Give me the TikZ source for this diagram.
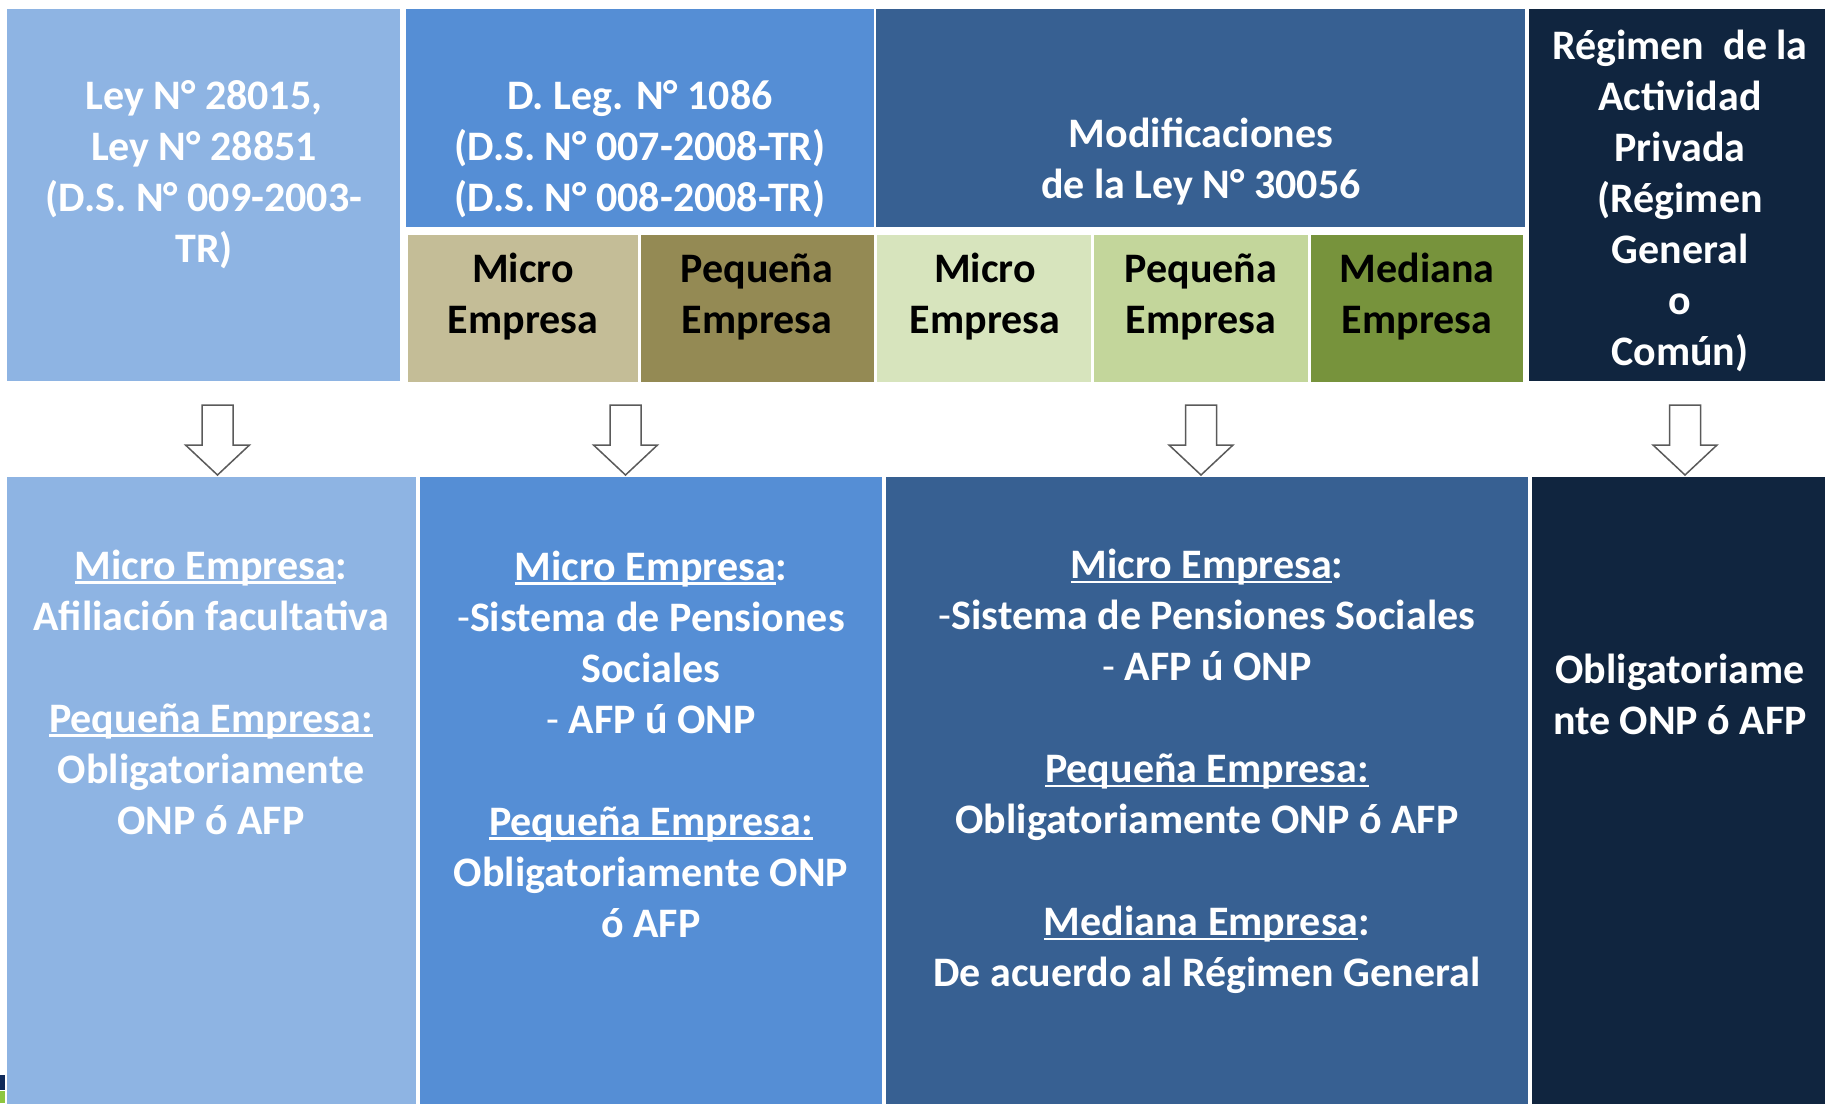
\documentclass[tikz,border=0pt]{standalone}
\usepackage{fontspec}
\setmainfont{Carlito}
\usetikzlibrary{positioning}

\definecolor{leyblue}{HTML}{8EB4E3}
\definecolor{legblue}{HTML}{558ED5}
\definecolor{modblue}{HTML}{376092}
\definecolor{regnavy}{HTML}{10253F}
\definecolor{microtan}{HTML}{C4BD97}
\definecolor{pequeolive}{HTML}{948A54}
\definecolor{micropale}{HTML}{D7E4BD}
\definecolor{pequelight}{HTML}{C3D69B}
\definecolor{medgreen}{HTML}{77933C}
\definecolor{arrowgray}{HTML}{5A5A5A}
\definecolor{slidenavy}{HTML}{0F2A5A}
\definecolor{slidegreen}{HTML}{8DC63F}

% underline at a fixed depth, through the descenders
\newcommand{\undl}[1]{\setbox0=\hbox{#1}\rlap{\rule[-2.4pt]{\wd0}{1.2pt}}\box0}

\tikzset{
  cell/.style={rectangle,inner sep=0pt,outer sep=0pt,anchor=north west},
  txt/.style={align=center,inner sep=0pt,text=white,
    font=\bfseries\fontsize{21}{25.5}\selectfont},
  subtxt/.style={txt,text=black},
  blockarrow/.style={draw=arrowgray,fill=white,line width=0.75pt,line join=miter}
}

\begin{document}
\begin{tikzpicture}[x=0.5pt,y=-0.5pt]
  \useasboundingbox (0,0) rectangle (1825,1103);

  % top row
  \node[cell,fill=leyblue,minimum width=196.5pt,minimum height=186pt] (ley) at (7,9) {};
  \node[cell,fill=legblue,minimum width=234pt,minimum height=109pt] (dleg) at (406,9) {};
  \node[cell,fill=modblue,minimum width=324.5pt,minimum height=109pt] (modif) at (876,9) {};
  \node[cell,fill=regnavy,minimum width=150pt,minimum height=186pt] (regimen) at (1529,9) {};

  % company sizes
  \node[cell,fill=microtan,minimum width=115pt,minimum height=73.5pt] (microA) at (408,235) {};
  \node[cell,fill=pequeolive,minimum width=116.5pt,minimum height=73.5pt] (pequeA) at (641,235) {};
  \node[cell,fill=micropale,minimum width=107pt,minimum height=73.5pt] (microB) at (877,235) {};
  \node[cell,fill=pequelight,minimum width=107pt,minimum height=73.5pt] (pequeB) at (1094,235) {};
  \node[cell,fill=medgreen,minimum width=106pt,minimum height=73.5pt] (medB) at (1311,235) {};

  % bottom row
  \node[cell,fill=leyblue,minimum width=204.5pt,minimum height=316pt] (colA) at (7,477) {};
  \node[cell,fill=legblue,minimum width=231pt,minimum height=316pt] (colB) at (420,477) {};
  \node[cell,fill=modblue,minimum width=321pt,minimum height=316pt] (colC) at (886,477) {};
  \node[cell,fill=regnavy,minimum width=150pt,minimum height=316pt] (colD) at (1532,477) {};

  % corner of the slide
  \fill[slidenavy] (0,1075) rectangle (5,1090);
  \fill[slidegreen] (0,1091) rectangle (5,1103);

  % texts
  \node[txt] (leyT) at (204,175) {Ley N° 28015,\\ Ley N° 28851\\ (D.S. N° 009-2003-\\ TR)};
  \node[txt] (dlegT) at (640,149) {D. Leg. N° 1086\\ (D.S. N° 007-2008-TR)\\ (D.S. N° 008-2008-TR)};
  \node[txt] (modifT) at (1201,162) {Modificaciones\\ de la Ley N° 30056};
  \node[txt] (regimenT) at (1680,201) {Régimen~~de la\\ Actividad\\ Privada\\ (Régimen\\ General\\ o\\ Común)};

  \node[subtxt] (microAT) at (523,297) {Micro\\ Empresa};
  \node[subtxt] (pequeAT) at (757,297) {Pequeña\\ Empresa};
  \node[subtxt] (microBT) at (985,297) {Micro\\ Empresa};
  \node[subtxt] (pequeBT) at (1201,297) {Pequeña\\ Empresa};
  \node[subtxt] (medBT) at (1417,297) {Mediana\\ Empresa};

  \node[txt] (colAT) at (211,692) {\undl{Micro Empresa}:\\ Afiliación facultativa\\ ~\\
    \undl{Pequeña Empresa:}\\ Obligatoriamente\\ ONP ó AFP};
  \node[txt] (colBT) at (651,744) {\undl{Micro Empresa}:\\ {\mdseries -}Sistema de Pensiones\\ Sociales\\
    {\mdseries -} AFP ú ONP\\ ~\\ \undl{Pequeña Empresa:}\\ Obligatoriamente ONP\\ ó AFP};
  \node[txt] (colCT) at (1207,771) {\undl{Micro Empresa}:\\ {\mdseries -}Sistema de Pensiones Sociales\\
    {\mdseries -} AFP ú ONP\\ ~\\ \undl{Pequeña Empresa:}\\ Obligatoriamente ONP ó AFP\\ ~\\
    \undl{Mediana Empresa}:\\ De acuerdo al Régimen General};
  \node[txt] (colDT) at (1680,694) {Obligatoriame\\ nte ONP ó AFP};

  % arrows down
  \foreach \x in {217.5,625.5,1201,1685}
    \draw[blockarrow] (\x-15.5,405) -- (\x+15.5,405) -- (\x+15.5,445) -- (\x+32,445)
      -- (\x,475) -- (\x-32,445) -- (\x-15.5,445) -- cycle;

\end{tikzpicture}
\end{document}
